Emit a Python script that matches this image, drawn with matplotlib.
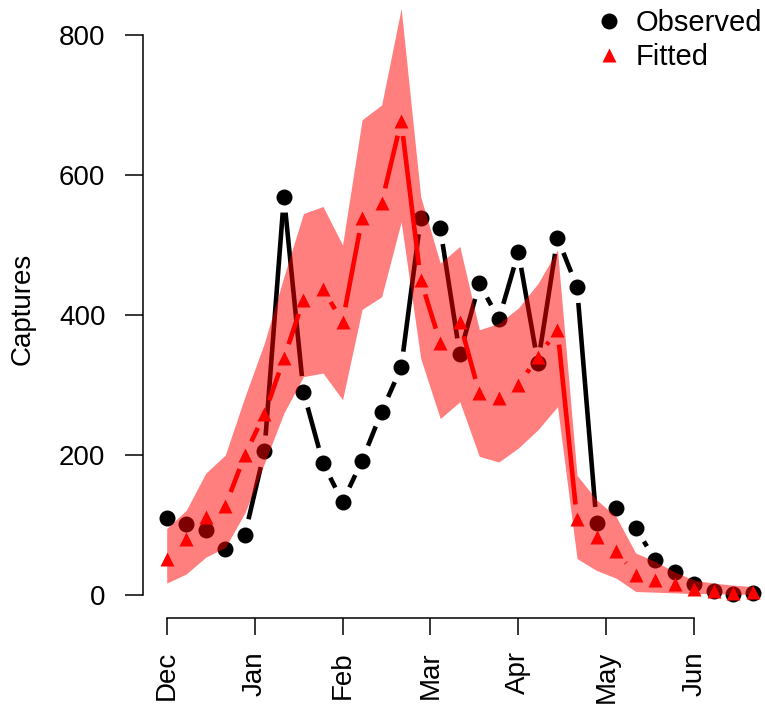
import numpy as np
import matplotlib
matplotlib.use("Agg")
import matplotlib.pyplot as plt
from matplotlib.collections import LineCollection
from matplotlib.lines import Line2D

plt.rcParams['font.family'] = ['Liberation Sans', 'DejaVu Sans']

# Weekly trap captures, December through June
week = np.arange(1, 32)
observed = [110, 101, 93, 66, 86, 205, 569, 290, 188, 133, 192, 262, 325, 538,
            524, 344, 445, 394, 490, 331, 510, 440, 103, 124, 96, 50, 33, 15, 5, 2, 3]
fitted = [52, 80, 112, 127, 200, 258, 338, 422, 437, 390, 538, 560, 677, 450,
          360, 390, 288, 282, 300, 340, 379, 108, 83, 63, 29, 22, 15, 8, 5, 3, 4]
fit_upper = [95, 121, 174, 200, 283, 360, 455, 545, 555, 500, 679, 700, 838, 569,
             474, 498, 379, 388, 410, 445, 493, 171, 136, 112, 60, 48, 33, 21, 17, 14, 12]
fit_lower = [17, 30, 54, 68, 117, 188, 260, 312, 317, 279, 408, 426, 533, 338,
             252, 276, 198, 190, 210, 236, 269, 52, 35, 24, 5, 4, 3, 2, 2, 1, 1]
month_labels = ["Dec", "Jan", "Feb", "Mar", "Apr", "May", "Jun"]
y_ticks = [0, 200, 400, 600, 800]

W, H = 765, 708
fig = plt.figure(figsize=(W / 100, H / 100), dpi=100)
ax = fig.add_axes([143 / W, (H - 618.3) / H, 1 - 143 / W, 618.3 / H])
ax.set_xlim(-0.213, 31.62)
ax.set_ylim(-33.3, 850)


def gapped(ax, x, y, gap_px):
    """Segments joining consecutive points, leaving a gap round each point."""
    pts = ax.transData.transform(np.column_stack([x, y]))
    inv = ax.transData.inverted()
    segs = []
    for p, q in zip(pts[:-1], pts[1:]):
        d = q - p
        L = np.hypot(*d)
        if L > 2 * gap_px:
            u = d / L
            segs.append(inv.transform(np.array([p + u * gap_px, q - u * gap_px])))
    return segs


lw = 3.3
ax.add_collection(LineCollection(gapped(ax, week, observed, 16), colors="black",
                                 linewidths=lw, capstyle="butt", zorder=2))
ax.plot(week, observed, "o", color="black", ms=11.5, mec="none", zorder=2, clip_on=False)

ax.add_collection(LineCollection(gapped(ax, week, fitted, 15), colors="red",
                                 linewidths=lw, capstyle="butt", zorder=3))
ax.plot(week, fitted, "^", color="red", ms=10, mec="none", zorder=3, clip_on=False)

ax.fill_between(week, fit_lower, fit_upper, color="red", alpha=0.5, lw=0, zorder=4)

for s in ("top", "right"):
    ax.spines[s].set_visible(False)
ax.spines["left"].set_bounds(0, 800)
month_pos = 1 + 4.5 * np.arange(len(month_labels))
ax.spines["bottom"].set_bounds(month_pos[0], month_pos[-1])
for s in ("left", "bottom"):
    ax.spines[s].set_linewidth(1.1)

ax.set_yticks(y_ticks)
ax.set_yticklabels([str(v) for v in y_ticks], fontsize=20)
ax.set_xticks(month_pos)
ax.set_xticklabels(month_labels, rotation=90, fontsize=20)
ax.tick_params(axis="y", length=13, width=1.1, pad=14)
ax.tick_params(axis="x", length=12.5, width=1.1, pad=11)
ax.set_ylabel("Captures", fontsize=20, labelpad=17)

handles = [Line2D([], [], marker="o", color="black", ls="none", ms=11.5, mec="none"),
           Line2D([], [], marker="^", color="red", ls="none", ms=10, mec="none")]
fig.legend(handles, ["Observed", "Fitted"], loc="upper right",
           bbox_to_anchor=(1.0, 1.0 - 6 / H), frameon=False, fontsize=21,
           handletextpad=0.3, labelspacing=0.22, borderaxespad=0.0,
           handlelength=1.2, borderpad=0.1)

fig.savefig("out.png", dpi=100)
